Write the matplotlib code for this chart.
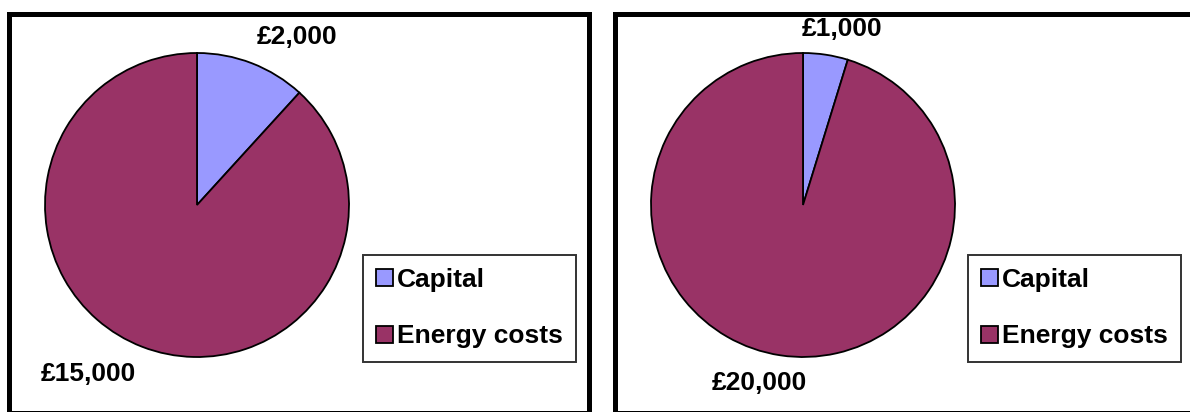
import matplotlib
matplotlib.use("Agg")
import matplotlib.pyplot as plt
from matplotlib.patches import Rectangle, Patch

plt.rcParams['font.family'] = ['Liberation Sans', 'DejaVu Sans']
plt.rcParams['font.weight'] = 'bold'

categories = ["Capital", "Energy costs"]
scenario_a = [2000, 15000]
scenario_b = [1000, 20000]
colors = ["#9999FF", "#993366"]

W, H = 1190, 412
fig = plt.figure(figsize=(W / 100, H / 100), dpi=100)
fig.patch.set_facecolor("white")

FS = 19


def money(v):
    return "£{:,}".format(v)


def panel(values, pie_left_px, frame, label_pos, legend_left_px):
    R = 152
    ax = fig.add_axes([pie_left_px / W, 55 / H, 2 * R / W, 2 * R / H])
    ax.pie(values, colors=colors, startangle=90, counterclock=False,
           radius=1.0, wedgeprops=dict(edgecolor="black", linewidth=1.3))
    ax.set_xlim(-1, 1)
    ax.set_ylim(-1, 1)
    ax.set_aspect("equal")
    ax.axis("off")
    for v, (x, y) in zip(values, label_pos):
        ax.text(x, y, money(v), ha="center", va="center", fontsize=FS,
                fontweight="bold", clip_on=False)

    handles = [Patch(facecolor=c, edgecolor="black", linewidth=1.3) for c in colors]
    leg = ax.legend(handles, categories, loc="upper left",
                    bbox_to_anchor=(legend_left_px / W, 1 - 255 / H),
                    bbox_transform=fig.transFigure,
                    fontsize=FS, frameon=True, fancybox=False, shadow=False,
                    borderpad=0.5, handlelength=0.62, handleheight=0.62,
                    handletextpad=0.15, labelspacing=1.22, borderaxespad=0)
    leg.get_frame().set_edgecolor("black")
    leg.get_frame().set_linewidth(1.4)
    for t in leg.get_texts():
        t.set_fontweight("bold")

    x0, y0, x1, y1 = frame
    fig.patches.append(Rectangle((x0 / W, 1 - y1 / H), (x1 - x0) / W, (y1 - y0) / H,
                                 transform=fig.transFigure, fill=False,
                                 edgecolor="black", linewidth=3.6, zorder=10))


panel(scenario_a, 45, (8.5, 13.5, 588.5, 412.5),
      [(0.658, 1.105), (-0.717, -1.112)], 363)
panel(scenario_b, 651, (614.5, 13.5, 1194, 412.5),
      [(0.257, 1.158), (-0.289, -1.171)], 968)

fig.savefig("out.png", dpi=100, facecolor="white")
